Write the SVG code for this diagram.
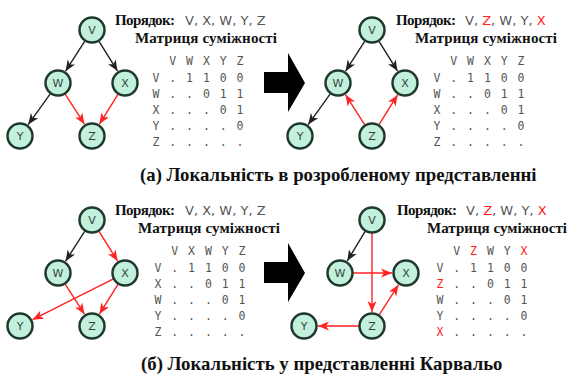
<svg xmlns="http://www.w3.org/2000/svg" width="569" height="378" viewBox="0 0 569 378">
  <style>
    .node circle { fill: #c2f0dd; stroke: #1f3a2c; stroke-width: 2.5; }
    .node text { font-family: "DejaVu Sans", sans-serif; font-size: 11px; fill: #34443d; text-anchor: middle; dominant-baseline: central; }
    .edge { fill: none; stroke-width: 1.4; }
    .blk { stroke: #222; marker-end: url(#headBlack); }
    .red { stroke: #f22; marker-end: url(#headRed); }
    .hd { font-family: "Liberation Serif", "DejaVu Serif", serif; font-weight: bold; font-size: 15px; fill: #111; }
    .ord { font-family: "DejaVu Sans", sans-serif; font-size: 13px; fill: #555; }
    .mx { font-family: "DejaVu Sans Mono", monospace; font-size: 11.5px; letter-spacing: 1.48px; fill: #555; }
    .hl { fill: #f22; }
    .cap { font-family: "Liberation Serif", "DejaVu Serif", serif; font-weight: bold; font-size: 18.8px; fill: #111; }
  </style>
  <defs>
    <marker id="headBlack" markerUnits="userSpaceOnUse" markerWidth="12" markerHeight="10" refX="11" refY="5" orient="auto">
      <path d="M0,0.5 L11,5 L0,9.5 L3,5 Z" fill="#222"/>
    </marker>
    <marker id="headRed" markerUnits="userSpaceOnUse" markerWidth="12" markerHeight="10" refX="11" refY="5" orient="auto">
      <path d="M0,0.5 L11,5 L0,9.5 L3,5 Z" fill="#f22"/>
    </marker>
    <path id="bigArrow" d="M264,72 H288 V53 L305,83 L288,112 V93 H264 Z" fill="#000"/>
  </defs>

  <!-- connectors -->
  <g id="connectors">
    <!-- (a) left graph -->
    <line class="edge blk" x1="84.98" y1="40.94" x2="65.56" y2="71.21"/>
    <line class="edge blk" x1="98.87" y1="41.04" x2="117.6" y2="71.11"/>
    <line class="edge blk" x1="50.42" y1="93.57" x2="28.16" y2="124.62"/>
    <line class="edge red" x1="65.02" y1="93.94" x2="84.44" y2="124.21"/>
    <line class="edge red" x1="118.13" y1="94.04" x2="99.4" y2="124.11"/>
    <!-- (a) right graph -->
    <line class="edge blk" x1="364.98" y1="40.94" x2="345.56" y2="71.21"/>
    <line class="edge blk" x1="378.87" y1="41.04" x2="397.6" y2="71.11"/>
    <line class="edge blk" x1="330.42" y1="93.57" x2="308.16" y2="124.62"/>
    <line class="edge red" x1="364.98" y1="125.06" x2="345.56" y2="94.79"/>
    <line class="edge red" x1="378.87" y1="124.96" x2="397.6" y2="94.89"/>
    <!-- (b) left graph -->
    <line class="edge blk" x1="84.98" y1="230.94" x2="65.56" y2="261.21"/>
    <line class="edge red" x1="98.87" y1="231.04" x2="117.6" y2="261.11"/>
    <line class="edge red" x1="65.02" y1="283.94" x2="84.44" y2="314.21"/>
    <line class="edge red" x1="118.13" y1="284.04" x2="99.4" y2="314.11"/>
    <line class="edge red" x1="113.39" y1="278.86" x2="32.5" y2="319.69"/>
    <!-- (b) right graph -->
    <line class="edge blk" x1="365.28" y1="231.13" x2="347.24" y2="261.01"/>
    <line class="edge red" x1="372" y1="233" x2="372" y2="312"/>
    <line class="edge red" x1="353" y1="273" x2="392" y2="273"/>
    <line class="edge red" x1="379.02" y1="315.06" x2="398.44" y2="284.79"/>
    <line class="edge red" x1="359" y1="326" x2="318" y2="326"/>
  </g>

  <!-- (a) left graph nodes -->
  <g id="a1-V" class="node"><circle cx="92" cy="30" r="12.5"/><text x="92" y="30">V</text></g>
  <g id="a1-W" class="node"><circle cx="58" cy="83" r="12.5"/><text x="58" y="83">W</text></g>
  <g id="a1-X" class="node"><circle cx="125" cy="83" r="12.5"/><text x="125" y="83">X</text></g>
  <g id="a1-Y" class="node"><circle cx="20" cy="136" r="12.5"/><text x="20" y="136">Y</text></g>
  <g id="a1-Z" class="node"><circle cx="92" cy="136" r="12.5"/><text x="92" y="136">Z</text></g>

  <!-- (a) right graph nodes -->
  <g id="a2-V" class="node"><circle cx="372" cy="30" r="12.5"/><text x="372" y="30">V</text></g>
  <g id="a2-W" class="node"><circle cx="338" cy="83" r="12.5"/><text x="338" y="83">W</text></g>
  <g id="a2-X" class="node"><circle cx="405" cy="83" r="12.5"/><text x="405" y="83">X</text></g>
  <g id="a2-Y" class="node"><circle cx="300" cy="136" r="12.5"/><text x="300" y="136">Y</text></g>
  <g id="a2-Z" class="node"><circle cx="372" cy="136" r="12.5"/><text x="372" y="136">Z</text></g>

  <!-- (b) left graph nodes -->
  <g id="b1-V" class="node"><circle cx="92" cy="220" r="12.5"/><text x="92" y="220">V</text></g>
  <g id="b1-W" class="node"><circle cx="58" cy="273" r="12.5"/><text x="58" y="273">W</text></g>
  <g id="b1-X" class="node"><circle cx="125" cy="273" r="12.5"/><text x="125" y="273">X</text></g>
  <g id="b1-Y" class="node"><circle cx="20" cy="326" r="12.5"/><text x="20" y="326">Y</text></g>
  <g id="b1-Z" class="node"><circle cx="92" cy="326" r="12.5"/><text x="92" y="326">Z</text></g>

  <!-- (b) right graph nodes -->
  <g id="b2-V" class="node"><circle cx="372" cy="220" r="12.5"/><text x="372" y="220">V</text></g>
  <g id="b2-W" class="node"><circle cx="340" cy="273" r="12.5"/><text x="340" y="273">W</text></g>
  <g id="b2-X" class="node"><circle cx="406" cy="273" r="12.5"/><text x="406" y="273">X</text></g>
  <g id="b2-Y" class="node"><circle cx="304" cy="326" r="12.5"/><text x="304" y="326">Y</text></g>
  <g id="b2-Z" class="node"><circle cx="372" cy="326" r="12.5"/><text x="372" y="326">Z</text></g>

  <!-- transition arrows -->
  <use href="#bigArrow"/>
  <use href="#bigArrow" y="190"/>

  <!-- (a) left: order and matrix -->
  <g id="a1-info">
    <text class="hd" x="115" y="25" textLength="60">Порядок:</text>
    <text class="ord" x="185" y="25">V, X, W, Y, Z</text>
    <text class="hd" x="135" y="43" textLength="142">Матриця суміжності</text>
    <text class="mx" x="169.3" y="65">V W X Y Z</text>
    <text class="mx" x="152.5" y="82">V . 1 1 0 0</text>
    <text class="mx" x="152.5" y="98">W . . 0 1 1</text>
    <text class="mx" x="152.5" y="114">X . . . 0 1</text>
    <text class="mx" x="152.5" y="130">Y . . . . 0</text>
    <text class="mx" x="152.5" y="146">Z . . . . .</text>
  </g>

  <!-- (a) right: order and matrix -->
  <g id="a2-info">
    <text class="hd" x="396" y="25" textLength="60">Порядок:</text>
    <text class="ord" x="465" y="25">V, <tspan class="hl">Z</tspan>, W, Y, <tspan class="hl">X</tspan></text>
    <text class="hd" x="415" y="43" textLength="142">Матриця суміжності</text>
    <text class="mx" x="450.3" y="65">V W X Y Z</text>
    <text class="mx" x="433.5" y="82">V . 1 1 0 0</text>
    <text class="mx" x="433.5" y="98">W . . 0 1 1</text>
    <text class="mx" x="433.5" y="114">X . . . 0 1</text>
    <text class="mx" x="433.5" y="130">Y . . . . 0</text>
    <text class="mx" x="433.5" y="146">Z . . . . .</text>
  </g>

  <!-- (b) left: order and matrix -->
  <g id="b1-info">
    <text class="hd" x="115" y="215" textLength="60">Порядок:</text>
    <text class="ord" x="185" y="215">V, X, W, Y, Z</text>
    <text class="hd" x="138" y="233" textLength="142">Матриця суміжності</text>
    <text class="mx" x="171.3" y="255">V X W Y Z</text>
    <text class="mx" x="154.5" y="272">V . 1 1 0 0</text>
    <text class="mx" x="154.5" y="288">X . . 0 1 1</text>
    <text class="mx" x="154.5" y="304">W . . . 0 1</text>
    <text class="mx" x="154.5" y="320">Y . . . . 0</text>
    <text class="mx" x="154.5" y="336">Z . . . . .</text>
  </g>

  <!-- (b) right: order and matrix -->
  <g id="b2-info">
    <text class="hd" x="397" y="215" textLength="60">Порядок:</text>
    <text class="ord" x="466" y="215">V, <tspan class="hl">Z</tspan>, W, Y, <tspan class="hl">X</tspan></text>
    <text class="hd" x="427" y="233" textLength="140">Матриця суміжності</text>
    <text class="mx" x="453.3" y="255">V <tspan class="hl">Z</tspan> W Y <tspan class="hl">X</tspan></text>
    <text class="mx" x="436.5" y="272">V . 1 1 0 0</text>
    <text class="mx" x="436.5" y="288"><tspan class="hl">Z</tspan> . . 0 1 1</text>
    <text class="mx" x="436.5" y="304">W . . . 0 1</text>
    <text class="mx" x="436.5" y="320">Y . . . . 0</text>
    <text class="mx" x="436.5" y="336"><tspan class="hl">X</tspan> . . . . .</text>
  </g>

  <!-- captions -->
  <text class="cap" x="140" y="181">(а) Локальність в розробленому представленні</text>
  <text class="cap" x="141" y="370">(б) Локальність у представленні Карвальо</text>
</svg>
